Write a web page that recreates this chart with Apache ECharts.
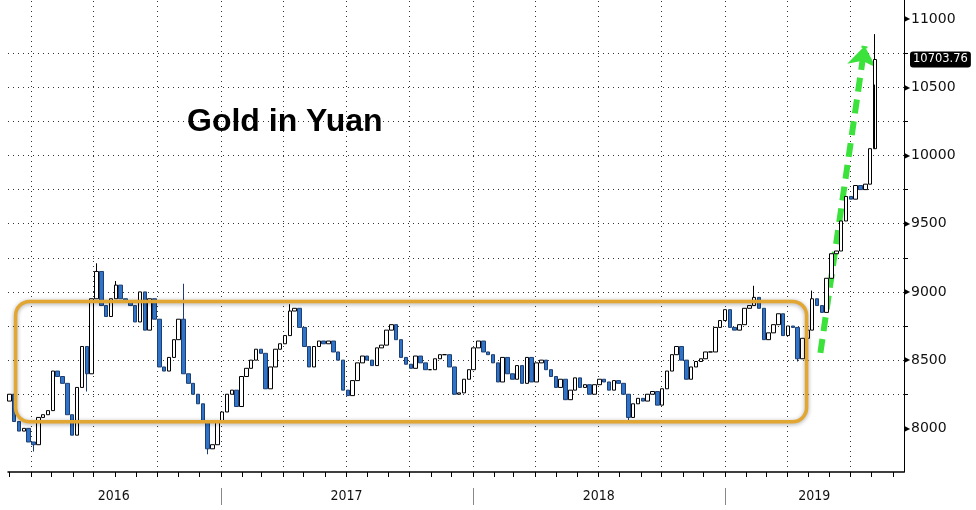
<!DOCTYPE html>
<html>
<head>
<meta charset="utf-8">
<script src="https://cdn.jsdelivr.net/npm/echarts@6/dist/echarts.min.js"></script>
<style>
html, body { margin: 0; padding: 0; background: #fff; }
#main { width: 976px; height: 510px; }
</style>
</head>
<body>
<div id="main"></div>
<script>
// weekly closes, first week starts 2016-03-01
var firstWeek = [2016, 2, 1];
var firstOpen = 8200;
var closes = [
    8250, 8050, 7980, 8000, 7900, 7880, 8080, 8100, 8130, 8420,
    8380, 8330, 8100, 7950, 8300, 8600, 8400, 8950, 9150, 8900,
    8820, 8950, 9050, 8950, 8930, 8900, 8780, 9000, 8720, 8950,
    8800, 8450, 8420, 8520, 8650, 8800, 8400, 8330, 8250, 8180,
    8050, 7850, 7880, 8050, 8120, 8250, 8280, 8160, 8380, 8440,
    8500, 8580, 8550, 8290, 8450, 8580, 8620, 8680, 8860, 8880,
    8740, 8600, 8450, 8600, 8640, 8620, 8640, 8560, 8500, 8280,
    8240, 8350, 8480, 8530, 8500, 8460, 8590, 8610, 8720, 8760,
    8650, 8520, 8470, 8440, 8530, 8480, 8430, 8430, 8510, 8540,
    8540, 8450, 8250, 8260, 8360, 8430, 8590, 8640, 8560, 8540,
    8480, 8340, 8520, 8400, 8360, 8460, 8330, 8520, 8340, 8480,
    8500, 8430, 8380, 8300, 8360, 8210, 8280, 8370, 8300, 8320,
    8250, 8320, 8360, 8340, 8280, 8350, 8330, 8250, 8080, 8180,
    8220, 8200, 8250, 8270, 8170, 8290, 8420, 8540, 8600, 8500,
    8360, 8450, 8490, 8510, 8560, 8560, 8740, 8790, 8870, 8740,
    8720, 8760, 8880, 8900, 8960, 8880, 8650, 8700, 8760, 8840,
    8680, 8750, 8740, 8510, 8660, 8720, 8950, 8900, 8850, 9100,
    9280, 9300, 9520, 9700, 9680, 9780, 9750, 9790, 10050, 10703.76
];
var lastClose = 10703.76;
// weeks whose intraweek extremes stick out: [week index, price]
var wickHighs = [[18, 9210], [22, 9080], [36, 9060], [58, 8910], [154, 9045], [166, 9010], [179, 10890]];
var wickLows = [[5, 7830], [16, 8270], [41, 7810], [128, 8050], [163, 8490], [179, 10520]];

var axisStart = '2016-02-28';
var axisEnd = '2019-09-17';
var yearNames = ['2016', '2017', '2018', '2019'];
var yearMids = ['2016-07-30', '2017-07-02', '2018-07-02', '2019-05-10'];
var yearStarts = ['2017-01-01', '2018-01-01', '2019-01-01'];
var quarterStarts = [
    '2016-04-01', '2016-07-01', '2016-10-01', '2017-01-01', '2017-04-01', '2017-07-01',
    '2017-10-01', '2018-01-01', '2018-04-01', '2018-07-01', '2018-10-01', '2019-01-01',
    '2019-04-01', '2019-07-01'
];

var boxCorners = [['2016-03-10', 8930], ['2019-04-29', 8048]];
var arrowFrom = ['2019-05-19', 8553];
var arrowTo = ['2019-07-22', 10803];

function ts(s) {
    var p = s.split('-');
    return new Date(+p[0], +p[1] - 1, +p[2]).getTime();
}

var candles = [];
for (var i = 0; i < closes.length; i++) {
    var t = new Date(firstWeek[0], firstWeek[1], firstWeek[2] + 7 * i).getTime();
    var o = i ? closes[i - 1] : firstOpen;
    var c = closes[i];
    candles.push([t, o, c, Math.min(o, c), Math.max(o, c)]);
}
wickHighs.forEach(function (w) { candles[w[0]][4] = w[1]; });
wickLows.forEach(function (w) { candles[w[0]][3] = w[1]; });

var monthTicks = [];
for (var m = 2; m < 45; m++) {
    monthTicks.push(new Date(2016, m, 1).getTime());
}
var priceTicks = [];
for (var v = 8000; v <= 11000; v += 250) priceTicks.push(v);

var yearLabelMap = {};
yearMids.forEach(function (d, k) { yearLabelMap[ts(d)] = yearNames[k]; });

var gridDots = { type: [1, 4], color: '#333', width: 1 };
var markItems = quarterStarts.map(function (d) {
    return { xAxis: ts(d), lineStyle: gridDots };
});
markItems.push([
    { coord: [ts(arrowFrom[0]), arrowFrom[1]], symbol: 'none' },
    {
        coord: [ts(arrowTo[0]), arrowTo[1]],
        symbol: 'arrow',
        symbolSize: [22, 20],
        lineStyle: { color: '#3be23b', width: 6, type: [14, 8] }
    }
]);

var myChart = echarts.init(document.getElementById('main'));

var option = {
    animation: false,
    backgroundColor: '#fff',
    title: {
        text: 'Gold in Yuan',
        left: 182,
        top: 101,
        textStyle: { fontFamily: 'Liberation Sans', fontSize: 32, fontWeight: 'bold', color: '#000' }
    },
    grid: { left: 8, right: 72, top: 0, bottom: 38 },
    xAxis: [{
        type: 'value',
        min: ts(axisStart),
        max: ts(axisEnd),
        axisLine: { show: true, lineStyle: { color: '#000', width: 1.5 } },
        axisTick: { show: true, customValues: monthTicks, length: 5, lineStyle: { color: '#000' } },
        axisLabel: { show: false },
        splitLine: { show: false }
    }, {
        type: 'value',
        position: 'bottom',
        offset: 16,
        min: ts(axisStart),
        max: ts(axisEnd),
        axisLine: { show: false },
        axisTick: {
            show: true,
            customValues: yearStarts.map(ts),
            length: 17,
            lineStyle: { color: '#888' }
        },
        axisLabel: {
            show: true,
            customValues: yearMids.map(ts),
            margin: 1,
            fontFamily: "'Liberation Sans Narrow', 'DejaVu Sans Condensed', 'Liberation Sans', sans-serif",
            fontSize: 14,
            color: '#111',
            formatter: function (val) { return yearLabelMap[val] || ''; }
        },
        splitLine: { show: false }
    }],
    yAxis: {
        type: 'value',
        position: 'right',
        min: 7680,
        max: 11140,
        splitNumber: 7,
        axisLine: { show: true, lineStyle: { color: '#000' } },
        axisTick: { show: true, customValues: priceTicks, length: 4, lineStyle: { color: '#000' } },
        axisLabel: {
            showMinLabel: false,
            showMaxLabel: false,
            margin: 0,
            formatter: function (val) { return '{t|\u25B6}{v|' + val + '}'; },
            rich: {
                t: { fontSize: 8, color: '#000' },
                v: { fontFamily: "'DejaVu Sans', sans-serif", fontSize: 14, color: '#111', padding: [0, 0, 0, 1] }
            }
        },
        splitLine: {
            show: true,
            showMinLine: false,
            showMaxLine: false,
            lineStyle: gridDots
        },
        axisPointer: {
            show: true,
            status: 'show',
            value: lastClose,
            triggerTooltip: false,
            lineStyle: { opacity: 0 },
            label: {
                show: true,
                backgroundColor: '#000',
                color: '#fff',
                fontFamily: "'DejaVu Sans', sans-serif",
                fontSize: 11.5,
                padding: [2, 3, 2, 3],
                margin: 6,
                formatter: function () { return lastClose.toFixed(2); }
            }
        }
    },
    series: [{
        type: 'candlestick',
        xAxisIndex: 0,
        data: candles,
        barWidth: 4,
        itemStyle: {
            color: '#ffffff',
            color0: '#2f74c8',
            borderColor: '#000000',
            borderColor0: '#1d3f73',
            borderWidth: 1
        },
        markLine: {
            silent: true,
            symbol: 'none',
            label: { show: false },
            z: 1,
            data: markItems
        }
    }]
};

myChart.setOption(option);

// orange frame around the 2016-2019 range, placed from data coordinates
var p1 = myChart.convertToPixel({ gridIndex: 0 }, [ts(boxCorners[0][0]), boxCorners[0][1]]);
var p2 = myChart.convertToPixel({ gridIndex: 0 }, [ts(boxCorners[1][0]), boxCorners[1][1]]);
myChart.setOption({
    graphic: [{
        type: 'rect',
        z: 100,
        shape: { x: p1[0], y: p1[1], width: p2[0] - p1[0], height: p2[1] - p1[1], r: 14 },
        style: {
            fill: 'none',
            stroke: '#e2a632',
            lineWidth: 3.5,
            shadowBlur: 4,
            shadowColor: 'rgba(0,0,0,0.35)',
            shadowOffsetY: 1
        }
    }]
});
</script>
</body>
</html>
